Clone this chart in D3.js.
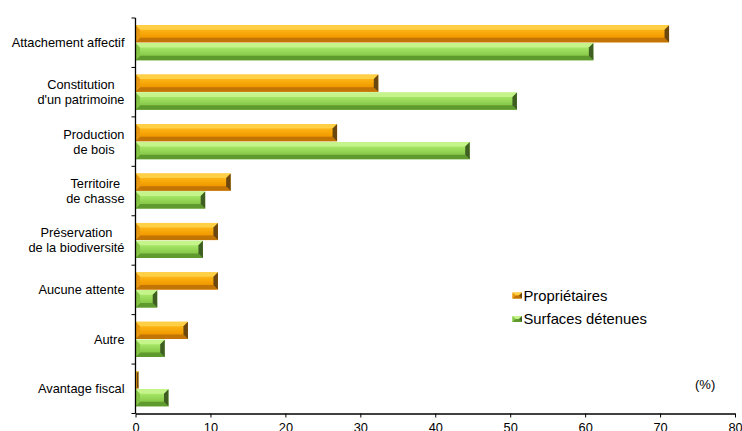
<!DOCTYPE html>
<html><head><meta charset="utf-8">
<script src="https://cdn.jsdelivr.net/npm/d3@7"></script>
<style>body{margin:0;background:#fff}svg{display:block;font-family:"Liberation Sans",Arial,sans-serif}</style>
</head><body><svg id="c" width="742" height="431"></svg>
<script>
const categories = [
  ["Attachement affectif"],
  ["Constitution","d'un patrimoine"],
  ["Production","de bois"],
  ["Territoire","de chasse"],
  ["Préservation","de la biodiversité"],
  ["Aucune attente"],
  ["Autre"],
  ["Avantage fiscal"]
];
const proprietaires = [71.2, 32.4, 26.9, 12.7, 11.0, 11.0, 7.0, 0.4];
const surfaces = [61.1, 50.9, 44.6, 9.3, 9.0, 2.9, 3.9, 4.4];
const seriesNames = ["Propriétaires", "Surfaces détenues"];
const xTicks = [0,10,20,30,40,50,60,70,80];

const svg = d3.select("#c");
const x0 = 135.5, x1 = 735, yTop = 18, yBot = 413.5;
const x = d3.scaleLinear().domain([0,80]).range([x0,x1]);
const keys = categories.map((c,i)=>i);
const y = d3.scaleBand().domain(keys).range([yTop,yBot]).paddingInner(0.29).paddingOuter(0.145);
const sub = d3.scaleBand().domain([0,1]).range([0,y.bandwidth()]).paddingInner(0.04);

const defs = svg.append("defs");
const pal = [
  {light:"#ffcf45", mid:"#f9a80c", dark:"#c27405", left:"#e89810", right:"#6a4610", gs:["#ffbe22","#fbb012","#f29c00","#de8a00"]},
  {light:"#c4f48a", mid:"#95d655", dark:"#5e9a2e", left:"#86c445", right:"#3e5e22", gs:["#b3ec72","#a2e262","#8ccc4c","#79b83e"]}
];
pal.forEach((p,i)=>{
  const g = defs.append("linearGradient").attr("id","g"+i).attr("x1",0).attr("y1",0).attr("x2",0).attr("y2",1);
  p.gs.forEach((c,j)=>g.append("stop").attr("offset",j/(p.gs.length-1)).attr("stop-color",c));
});

function bevelBar(g, xa, xb, ya, yb, p, gi){
  const w = xb-xa, h = yb-ya;
  const b = Math.min(4.5, w/2, h/2);
  g.append("rect").attr("x",xa).attr("y",ya).attr("width",w).attr("height",h).attr("fill",`url(#g${gi})`);
  const poly = (pts,fill)=>g.append("polygon").attr("points",pts.map(d=>d.join(",")).join(" ")).attr("fill",fill);
  poly([[xa,ya],[xb,ya],[xb-b,ya+b],[xa+b,ya+b]], p.light);
  poly([[xa,yb],[xb,yb],[xb-b,yb-b],[xa+b,yb-b]], p.dark);
  poly([[xa,ya],[xa+b,ya+b],[xa+b,yb-b],[xa,yb]], p.left);
  poly([[xb,ya],[xb-b,ya+b],[xb-b,yb-b],[xb,yb]], p.right);
}

const bars = svg.append("g");
[proprietaires, surfaces].forEach((vals,si)=>{
  vals.forEach((v,i)=>{
    const ya = y(i)+sub(si);
    bevelBar(bars, x(0), x(v), ya, ya+sub.bandwidth(), pal[si], si);
  });
});

// axes
const xAxis = d3.axisBottom(x).tickValues(xTicks).tickSize(4).tickSizeOuter(0);
const gx = svg.append("g").attr("transform",`translate(0,${yBot})`).call(xAxis);
gx.select(".domain").attr("stroke","#000").attr("stroke-width",1.3);
gx.selectAll(".tick line").attr("stroke","#000");
gx.selectAll(".tick text").attr("font-size",12.8).attr("font-family","Liberation Sans, Arial, sans-serif").attr("dy","0.86em").attr("fill","#000");

svg.append("line").attr("x1",x0).attr("x2",x0).attr("y1",yTop).attr("y2",yBot).attr("stroke","#000").attr("stroke-width",1.3);
d3.range(categories.length+1).forEach(k=>{
  const yy = yTop + k*(yBot-yTop)/categories.length;
  svg.append("line").attr("x1",x0-4).attr("x2",x0).attr("y1",yy).attr("y2",yy).attr("stroke","#000");
});

// category labels
const labG = svg.append("g").attr("font-size",12.8).attr("fill","#000");
categories.forEach((lines,i)=>{
  const cy = y(i)+y.bandwidth()/2;
  const t = labG.append("text").attr("text-anchor","middle");
  const n = lines.length;
  lines.forEach((l,j)=>{
    t.append("tspan").attr("y", cy + (j-(n-1)/2)*15).attr("dy","0.35em").text(l);
  });
  let maxW = 0;
  t.selectAll("tspan").each(function(){ maxW = Math.max(maxW, this.getComputedTextLength()); });
  const cx = 124.5 - maxW/2;
  t.selectAll("tspan").attr("x",cx);
});

// legend
const leg = svg.append("g").attr("font-size",14.8);
seriesNames.forEach((s,i)=>{
  const yy = 300.5 + i*23.5;
  const sw = leg.append("g");
  bevelBar(sw, 512.5, 522, yy-8, yy-2, pal[i], i);
  leg.append("text").attr("x",523.5).attr("y",yy).text(s);
});

svg.append("text").attr("x",695).attr("y",388.5).attr("font-size",13).text("(%)");
</script></body></html>
